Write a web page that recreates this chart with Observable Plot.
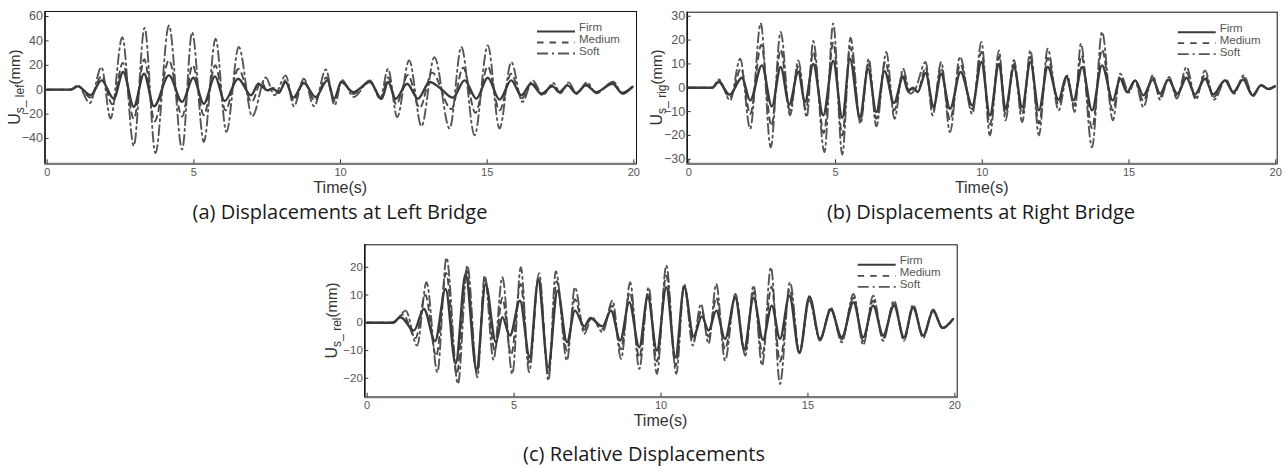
<!DOCTYPE html>
<html><head><meta charset="utf-8">
<script src="https://cdn.jsdelivr.net/npm/d3@7"></script>
<script src="https://cdn.jsdelivr.net/npm/@observablehq/plot@0.6"></script>
<style>
html,body{margin:0;padding:0;background:#fff}
body{width:1287px;height:468px;position:relative;overflow:hidden;font-family:"Liberation Sans",Arial,sans-serif}
.panel{position:absolute}
.cap{position:absolute;font-family:"Open Sans",sans-serif;font-size:20px;line-height:22px;color:#1a1a1a;white-space:nowrap;transform:translateX(-50%)}
</style></head>
<body>
<div id="pa" class="panel" style="left:0px;top:0px"></div>
<div id="pb" class="panel" style="left:640px;top:0px"></div>
<div id="pc" class="panel" style="left:320px;top:233px"></div>
<div class="cap" style="left:340px;top:201px">(a) Displacements at Left Bridge</div>
<div class="cap" style="left:981px;top:201px">(b) Displacements at Right Bridge</div>
<div class="cap" style="left:644px;top:443px">(c) Relative Displacements</div>
<script>
// ---------------- data (time s, displacement mm) ----------------
const seriesNames = ["Firm", "Medium", "Soft"];
const xTicks = [0, 5, 10, 15, 20];
const aTicksY = [-40, -20, 0, 20, 40, 60];
const bTicksY = [-30, -20, -10, 0, 10, 20, 30];
const cTicksY = [-20, -10, 0, 10, 20];

const aFirm = [[0,0],[0.8,0],[1.05,2.7],[1.48,-4.6],[1.85,7.6],[2.27,-7.4],[2.59,14.5],[2.95,-14],[3.3,13],[3.64,-13.6],[4.15,11.7],[4.6,-10],[4.98,9.8],[5.34,-11.5],[5.72,10.9],[6.05,-9.3],[6.51,9],[6.95,-4.6],[7.2,4.9],[7.5,-0.5],[7.67,0.8],[7.9,-2],[8.13,6.3],[8.39,-6.5],[8.75,5.5],[9.15,-6],[9.55,7.6],[9.78,-7.4],[10.03,6.3],[10.43,-2],[11.0,6.3],[11.4,-7.4],[11.62,6.3],[11.88,-7.4],[12.27,4.9],[12.64,-7.4],[13.04,6.3],[13.38,1.6],[13.83,-6.5],[14.23,7.6],[14.63,-7.4],[15.02,9.8],[15.42,-8.2],[15.82,7.6],[16.16,-4.6],[16.5,4.9],[16.84,-3.3],[17.23,2.7],[17.46,-2],[17.74,3.5],[18.03,-2.7],[18.37,3.5],[18.71,-2],[19.27,4.9],[19.6,-2.7],[19.95,2.2]];
const aMedium = [[0,0],[0.8,0],[1.05,3],[1.47,-6.5],[1.85,11],[2.22,-12],[2.58,22],[2.95,-24],[3.31,25],[3.66,-26],[4.15,24],[4.6,-22],[4.96,20],[5.34,-21],[5.73,20],[6.08,-17],[6.52,17],[6.97,-10],[7.3,6.5],[7.5,-1],[7.7,1.5],[7.9,-3],[8.13,8],[8.4,-9],[8.75,7],[9.12,-9],[9.52,10],[9.78,-9.5],[10.04,7],[10.44,-3.5],[11.0,7],[11.38,-7.5],[11.62,10],[11.9,-12],[12.3,12],[12.7,-15],[13.12,14],[13.78,-16],[14.18,18],[14.6,-19],[15.02,19],[15.42,-17],[15.82,13],[16.18,-7],[16.52,6],[16.86,-4],[17.24,4],[17.48,-2.5],[17.76,4.5],[18.04,-3],[18.38,4.5],[18.72,-2.5],[19.28,5.5],[19.6,-3],[19.95,2.3]];
const aSoft = [[0,0],[0.8,0],[1.05,3.5],[1.45,-11],[1.85,18.5],[2.16,-23.7],[2.56,43],[2.95,-46],[3.32,50.7],[3.69,-52],[4.15,52.6],[4.6,-49],[4.94,47],[5.34,-42.8],[5.74,41.7],[6.11,-34.6],[6.53,35],[6.99,-21.8],[7.45,10],[7.75,-4.6],[8.13,11.7],[8.41,-13.6],[8.75,9],[9.1,-13.6],[9.5,16.5],[9.8,-12.8],[10.05,8],[10.45,-6],[11.0,7.6],[11.35,-7.4],[11.62,17],[11.93,-22.4],[12.34,24],[12.76,-30],[13.2,26.7],[13.72,-31.9],[14.12,35],[14.57,-37.4],[15.02,36.3],[15.42,-31.9],[15.82,22.6],[16.2,-10],[16.55,7.6],[16.9,-4.5],[17.25,5.5],[17.5,-3],[17.78,6],[18.05,-3.5],[18.4,6],[18.72,-3],[19.3,6.5],[19.62,-3.5],[19.95,2.5]];

const bFirm = [[0,0],[0.8,0],[1.02,2.4],[1.39,-2.9],[1.81,4.2],[2.09,-5.3],[2.49,9.4],[2.83,-7.8],[3.13,8.7],[3.42,-7],[3.73,6.6],[3.96,-6],[4.24,10],[4.58,-11.6],[4.92,11.2],[5.23,-12.6],[5.49,12.2],[5.83,-12.3],[6.11,8],[6.39,-10.2],[6.67,7],[6.99,-6.4],[7.3,4.5],[7.47,-1.4],[7.64,0],[7.8,-1.8],[8.07,6.2],[8.34,-7.8],[8.6,5.9],[8.9,-8.8],[9.26,6.6],[9.66,-7.4],[9.97,10.8],[10.26,-11.6],[10.57,10],[10.79,-8.8],[11.08,8.7],[11.36,-8.1],[11.64,10.8],[11.93,-9.5],[12.23,8.7],[12.6,-5],[12.87,4.8],[13.11,-5.3],[13.4,8.7],[13.74,-9.5],[14.08,9.4],[14.45,-5.3],[14.7,3.8],[14.93,-1.8],[15.21,3.1],[15.49,-3.2],[15.81,3.4],[16.06,-2.5],[16.34,3.4],[16.65,-2.5],[16.96,4.2],[17.25,-2.8],[17.59,3.8],[17.87,-2.8],[18.27,3.1],[18.55,-1.8],[18.89,3.4],[19.21,-3.2],[19.5,1],[19.75,-0.5],[19.97,0.6]];
const bMedium = [[0,0],[0.8,0],[1.02,3],[1.4,-4],[1.78,8],[2.09,-11],[2.47,18],[2.81,-16],[3.13,16],[3.44,-9.5],[3.73,9],[3.99,-9],[4.24,15],[4.6,-19],[4.92,19],[5.23,-20],[5.5,17],[5.84,-14],[6.12,10],[6.39,-13],[6.7,11],[7.0,-9.5],[7.3,6.2],[7.5,-2],[7.65,-0.5],[7.8,-1.5],[8.07,8.5],[8.32,-9.5],[8.6,8.3],[8.9,-13.5],[9.25,9.8],[9.66,-9],[9.97,15],[10.26,-15.5],[10.57,13],[10.79,-11],[11.08,10],[11.36,-11],[11.64,13],[11.93,-15],[12.23,12.5],[12.6,-7],[12.88,5],[13.13,-7.5],[13.38,13.5],[13.74,-17],[14.08,16],[14.45,-9.5],[14.7,4.8],[14.95,-2],[15.2,3],[15.49,-5.5],[15.81,4.3],[16.06,-3.8],[16.35,4],[16.64,-3.5],[16.96,6.4],[17.26,-4],[17.59,5.5],[17.88,-4],[18.28,3.3],[18.56,-2.2],[18.9,4.3],[19.22,-3.3],[19.5,1.1],[19.75,-0.5],[19.97,0.6]];
const bSoft = [[0,0],[0.8,0],[1.02,3.5],[1.41,-5.3],[1.75,12.2],[2.09,-17.2],[2.45,27],[2.79,-25],[3.13,23.4],[3.45,-11.6],[3.73,11.5],[4.02,-12.3],[4.24,19.6],[4.62,-27],[4.92,27],[5.23,-28],[5.51,21],[5.85,-15.1],[6.13,12.2],[6.39,-16.2],[6.73,15],[7.01,-13],[7.3,8],[7.55,-2.5],[7.7,-1],[8.07,10.8],[8.31,-11.6],[8.6,10.8],[8.9,-18.6],[9.24,13],[9.66,-11],[9.97,19.2],[10.26,-20],[10.57,15.7],[10.79,-13.7],[11.08,11.7],[11.36,-14.4],[11.64,15.7],[11.93,-20],[12.23,16.4],[12.6,-9.5],[12.9,5.2],[13.15,-10.2],[13.36,18.5],[13.74,-25],[14.08,23.4],[14.45,-13.7],[14.7,5.9],[15.0,-2],[15.2,3],[15.49,-8.1],[15.81,5.2],[16.06,-5],[16.37,4.5],[16.63,-4.5],[16.96,8.7],[17.28,-5],[17.59,7.3],[17.9,-5],[18.3,3.5],[18.58,-2.5],[18.91,5.2],[19.23,-3.5],[19.5,1.2],[19.75,-0.5],[19.97,0.6]];

const cFirm = [[0,0],[0.85,0],[1.14,2],[1.59,-2.8],[1.93,5],[2.31,-6.6],[2.67,12.2],[3.01,-14.8],[3.35,17.6],[3.72,-16.9],[4.03,14],[4.38,-7],[4.6,2],[4.86,-4.6],[5.2,8],[5.53,-12.4],[5.82,15.2],[6.16,-16],[6.48,11.6],[6.8,-7],[7.07,4.4],[7.39,-1.3],[7.59,1.7],[8.01,-1.3],[8.3,4.4],[8.61,-6.4],[8.92,7.4],[9.26,-8.8],[9.55,9.5],[9.86,-10],[10.18,12.8],[10.49,-12.4],[10.79,12.8],[11.11,-4.9],[11.39,2.3],[11.62,-2.8],[11.88,4.4],[12.18,-5.8],[12.53,9],[12.83,-9.4],[13.15,9],[13.47,-6.1],[13.77,6.2],[14.05,-5.8],[14.37,9.8],[14.71,-10.9],[15.05,9.5],[15.41,-5.8],[15.78,4.7],[16.15,-5.2],[16.55,7.4],[16.88,-5.2],[17.22,6.2],[17.56,-4.6],[17.93,6.2],[18.27,-5.2],[18.58,5.4],[18.92,-4.6],[19.26,4.2],[19.58,-1.8],[19.94,1.4]];
const cMedium = [[0,0],[0.88,0],[1.22,3],[1.65,-5.5],[1.98,10],[2.35,-12],[2.69,18],[3.05,-18.5],[3.38,19],[3.74,-18],[4.02,15.5],[4.34,-10],[4.6,9],[4.9,-11.5],[5.22,14],[5.52,-15],[5.84,16.5],[6.17,-18.5],[6.45,15],[6.8,-10],[7.07,8.5],[7.39,-2.5],[7.62,1.8],[8.01,-2.3],[8.33,6.2],[8.63,-9.5],[8.94,11],[9.26,-12.5],[9.57,11],[9.86,-14],[10.18,17],[10.5,-15.5],[10.79,13.5],[11.1,-6.5],[11.38,4.5],[11.62,-5],[11.88,9],[12.18,-9.5],[12.53,9.7],[12.85,-10.5],[13.15,11],[13.45,-11],[13.76,13],[14.05,-14],[14.38,12],[14.71,-10.8],[15.05,8.8],[15.41,-6],[15.78,5],[16.15,-6],[16.55,9],[16.88,-6.5],[17.22,8],[17.56,-5.5],[17.93,7],[18.27,-6],[18.58,6],[18.92,-5],[19.26,4.5],[19.58,-1.9],[19.94,1.4]];
const cSoft = [[0,0],[0.9,0],[1.31,4.4],[1.7,-8.2],[2.02,14.6],[2.39,-17.8],[2.7,23.4],[3.09,-22],[3.41,20.6],[3.75,-19.6],[4.0,17],[4.3,-13.3],[4.6,16.4],[4.94,-18.4],[5.23,20],[5.51,-17.8],[5.85,17.9],[6.17,-20.8],[6.42,18.6],[6.8,-13.6],[7.07,12.8],[7.39,-4],[7.65,2],[8.01,-3.4],[8.35,8],[8.64,-13],[8.95,14.6],[9.26,-16.6],[9.58,12.8],[9.86,-18.4],[10.18,20.6],[10.52,-18.4],[10.79,14],[11.08,-8.2],[11.36,6.8],[11.62,-7.5],[11.88,14],[12.18,-13.6],[12.53,10.4],[12.87,-11.8],[13.15,13.4],[13.44,-15.4],[13.74,20],[14.05,-22],[14.39,14.6],[14.71,-10.6],[15.05,8],[15.41,-6.5],[15.78,5.5],[16.15,-7],[16.55,10.4],[16.88,-8],[17.22,9.8],[17.56,-6.5],[17.93,8],[18.27,-6.5],[18.58,6.5],[18.92,-5.5],[19.26,4.8],[19.58,-2],[19.94,1.4]];

// ---------------- drawing ----------------
const lineStyle = {
  Firm:   {stroke: "#3b3b3b", strokeWidth: 2.4, strokeDasharray: null},
  Medium: {stroke: "#4a4a4a", strokeWidth: 1.9, strokeDasharray: "6,5"},
  Soft:   {stroke: "#565656", strokeWidth: 1.9, strokeDasharray: "10,4,2,4"}
};
const FONT = "'Liberation Sans', Arial, sans-serif";

function drawPanel(el, cfg) {
  const rows = [];
  cfg.series.forEach((arr, i) => arr.forEach(([t, v]) => rows.push({t, v, s: seriesNames[i]})));
  const marks = [];
  ["Soft", "Medium", "Firm"].forEach(name => {
    const st = lineStyle[name];
    marks.push(Plot.line(rows.filter(r => r.s === name), {
      x: "t", y: "v", curve: "monotone-x",
      stroke: st.stroke, strokeWidth: st.strokeWidth,
      strokeDasharray: st.strokeDasharray, strokeLinejoin: "round", strokeLinecap: "round"
    }));
  });
  marks.push(Plot.frame({stroke: "#111", strokeWidth: 1}));
  marks.push(Plot.ruleY([cfg.yDomain[0]], {stroke: "#7a7a7a", strokeWidth: 2.2}));
  marks.push(Plot.ruleX([cfg.xDomain[0]], {stroke: "#111", strokeWidth: 1.4}));
  marks.push(Plot.axisX(xTicks, {tickSize: -4, tickPadding: 8, fontSize: 11, label: null, stroke: "#333"}));
  marks.push(Plot.axisY(cfg.yTicks, {tickSize: -4, tickPadding: 6, fontSize: cfg.yFont, label: null, stroke: "#333"}));

  const svg = Plot.plot({
    width: cfg.w, height: cfg.h,
    marginLeft: cfg.ml, marginRight: cfg.mr, marginTop: cfg.mt, marginBottom: cfg.mb,
    x: {domain: cfg.xDomain},
    y: {domain: cfg.yDomain},
    style: {fontFamily: FONT, color: "#555", background: "transparent", overflow: "visible"},
    marks
  });
  el.appendChild(svg);

  const S = d3.select(svg);
  const left = cfg.ml, right = cfg.w - cfg.mr, top = cfg.mt, bottom = cfg.h - cfg.mb;
  // x label
  S.append("text").attr("x", (left + right) / 2).attr("y", bottom + 25)
    .attr("text-anchor", "middle").attr("dominant-baseline", "middle")
    .attr("font-family", FONT).attr("font-size", 16).attr("fill", "#333")
    .text("Time(s)");
  // y label
  const yl = S.append("text")
    .attr("transform", `translate(${left + cfg.ylx},${(top + bottom) / 2}) rotate(-90)`)
    .attr("text-anchor", "middle").attr("font-family", FONT)
    .attr("font-size", 16).attr("fill", "#333");
  yl.append("tspan").text("U");
  yl.append("tspan").attr("font-size", 12).attr("dy", 4).text(cfg.sub);
  yl.append("tspan").attr("font-size", 15).attr("dy", -4).text("(mm)");
  // legend
  const lg = S.append("g");
  seriesNames.forEach((name, i) => {
    const st = lineStyle[name];
    lg.append("line").attr("x1", right - 99).attr("x2", right - 61)
      .attr("y1", top + 20.5 + i * 11).attr("y2", top + 20.5 + i * 11)
      .attr("stroke", st.stroke).attr("stroke-width", name === "Firm" ? 2 : 1.8)
      .attr("stroke-dasharray", name === "Medium" ? "6.5,6" : name === "Soft" ? "11,4,2,4" : null);
    lg.append("text").attr("x", right - 57).attr("y", top + 17 + i * 12)
      .attr("text-anchor", "start")
      .attr("dominant-baseline", "middle").attr("font-size", 11.5).attr("fill", "#555")
      .attr("font-family", FONT).text(name);
  });
}

drawPanel(document.getElementById("pa"), {
  series: [aFirm, aMedium, aSoft], yTicks: aTicksY, yFont: 12.5,
  xDomain: [-0.075, 20.09], yDomain: [-60.8, 64.1],
  w: 645, h: 200, ml: 44.5, mr: 9, mt: 11, mb: 36.7, ylx: -25, sub: "s_ lef"
});
drawPanel(document.getElementById("pb"), {
  series: [bFirm, bMedium, bSoft], yTicks: bTicksY, yFont: 12.5,
  xDomain: [-0.055, 20.05], yDomain: [-31.9, 31.7],
  w: 645, h: 200, ml: 46.7, mr: 8.3, mt: 11.7, mb: 36.7, ylx: -25, sub: "s_ rig"
});
drawPanel(document.getElementById("pc"), {
  series: [cFirm, cMedium, cSoft], yTicks: cTicksY, yFont: 11.5,
  xDomain: [-0.08, 20.08], yDomain: [-26.8, 28.1],
  w: 645, h: 200, ml: 44.3, mr: 8.3, mt: 11.3, mb: 36.3, ylx: -27, sub: "s_ rel"
});
</script>
</body></html>
